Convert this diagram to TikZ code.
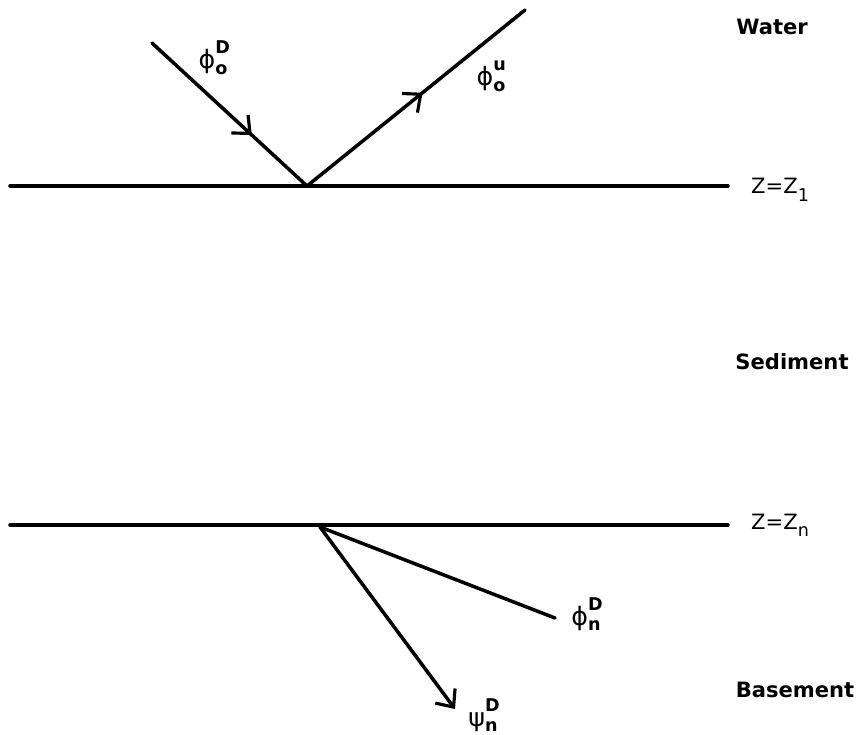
\documentclass[tikz,border=0pt]{standalone}
\usepackage{fontspec}
\setmainfont{DejaVu Sans}
\usetikzlibrary{arrows.meta,decorations.markings}
\newcommand{\wavelbl}[3]{{\Large #1}\rlap{\raisebox{1.3ex}{\normalsize\bfseries #3}}\raisebox{-0.5ex}{\normalsize\bfseries #2}}

\begin{document}
\begin{tikzpicture}[x=0.02cm, y=-0.02cm, font=\large, line join=round, line cap=round,
    >={Straight Barb[length=8pt,width=14pt,line width=1.8pt]},
    bound/.style={line width=2pt},
    ray/.style={line width=2pt},
    midarrow/.style={postaction={decorate},
        decoration={markings, mark=at position #1 with {\arrow{>}}}},
    layer/.style={font=\large\bfseries},
    wave/.style={inner sep=1pt}]
        \useasboundingbox (0,0) rectangle (858,734);
        \def\zone{186} \def\ztwo{525}
        % interfaces
        \coordinate (l1) at (10,\zone);   \coordinate (r1) at (728,\zone);
        \coordinate (l2) at (10,\ztwo);   \coordinate (r2) at (728,\ztwo);
        \draw[bound] (l1) -- (r1);
        \draw[bound] (l2) -- (r2);
        \node[anchor=west] (z1) at (745,\zone+4) {Z=Z\raisebox{-0.7ex}{\normalsize 1}};
        \node[anchor=west] (zn) at (745,\ztwo) {Z=Z\raisebox{-0.6ex}{\normalsize n}};
        % layer names
        \node[layer] (water) at (772,27) {Water};
        \node[layer] (sediment) at (792,362) {Sediment};
        \node[layer] (basement) at (795,690) {Basement};
        % rays in the water
        \coordinate (inc) at (152,43);
        \coordinate (top) at (307,186);
        \coordinate (refl) at (525,10);
        \draw[ray,midarrow=0.645] (inc) -- (top);
        \draw[ray,midarrow=0.53] (top) -- (refl);
        \node[wave] (phiod) at (213,58) {\wavelbl{ϕ}{o}{D}};
        \node[wave] (phiou) at (491,76) {\wavelbl{ϕ}{o}{u}};
        % rays in the basement
        \coordinate (bot) at (320,527);
        \coordinate (trans) at (555,618);
        \coordinate (shear) at (455,709);
        \draw[ray] (bot) -- (trans);
        \draw[ray,->] (bot) -- (shear);
        \node[wave] (phind) at (586,614) {\wavelbl{ϕ}{n}{D}};
        \node[wave] (psind) at (483,715) {\wavelbl{ψ}{n}{D}};
\end{tikzpicture}
\end{document}
